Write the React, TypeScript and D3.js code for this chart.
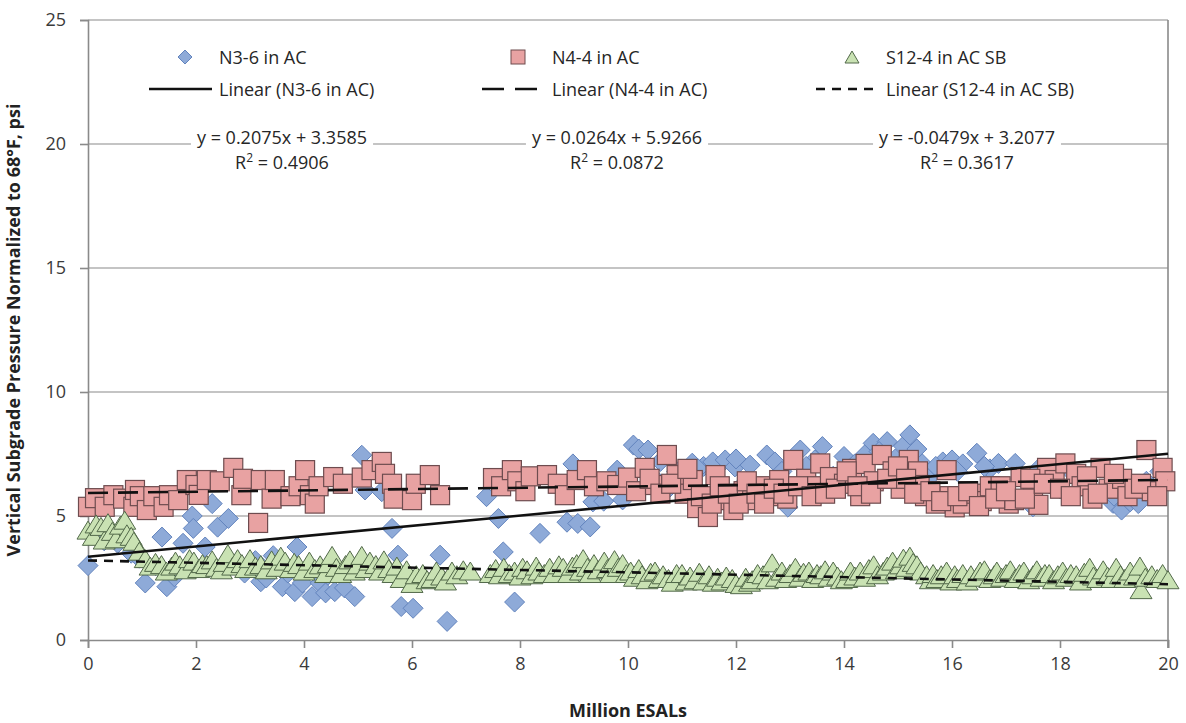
import * as d3 from "d3"
import { useRef, useEffect } from "react"

// N3-6 in AC (blue diamonds)
const n36X = [0.0, 0.3, 0.55, 0.8, 0.95, 1.06, 1.25, 1.37, 1.46, 1.6, 1.76, 1.93, 1.95, 2.17, 2.3, 2.4, 2.6, 2.75, 2.9, 3.1, 3.2, 3.3, 3.43, 3.6, 3.7, 3.83, 3.87, 3.97, 4.15, 4.3, 4.4, 4.57, 4.75, 4.94, 5.07, 5.13, 5.3, 5.44, 5.63, 5.74, 5.8, 6.02, 6.2, 6.52, 6.65, 7.38, 7.6, 7.69, 7.9, 8.37, 8.87, 8.98, 9.07, 9.3, 9.35, 9.55, 9.8, 9.9, 10.1, 10.2, 10.37, 10.5, 10.7, 10.9, 11.19, 11.4, 11.57, 11.66, 11.8, 11.98, 12.1, 12.26, 12.4, 12.57, 12.72, 12.96, 13.19, 13.46, 13.6, 13.8, 14.0, 14.2, 14.4, 14.54, 14.8, 14.95, 15.1, 15.22, 15.35, 15.6, 15.83, 16.0, 16.2, 16.46, 16.7, 16.86, 17.17, 17.5, 17.8, 18.2, 18.5, 18.8, 18.98, 19.14, 19.3, 19.45, 19.6, 19.85,
  10.6, 11.0, 11.3, 12.0, 12.85, 13.3, 14.1, 14.65, 15.45, 15.7, 16.1, 16.6, 17.3, 17.6, 18.0, 18.35, 19.0, 19.7]
const n36Y = [3.0, 4.0, 3.9, 3.5, 3.3, 2.3, 3.0, 4.15, 2.15, 2.55, 3.9, 5.0, 4.5, 3.75, 5.5, 4.55, 4.9, 3.1, 2.7, 3.2, 2.35, 2.5, 3.4, 2.15, 2.7, 1.95, 3.75, 2.3, 1.75, 2.3, 1.9, 1.95, 2.1, 1.75, 7.45, 6.05, 2.9, 5.98, 4.5, 3.42, 1.35, 1.28, 2.5, 3.42, 0.75, 5.78, 4.9, 3.55, 1.53, 4.3, 4.75, 7.1, 4.7, 4.56, 5.57, 5.6, 6.85, 5.65, 7.86, 7.7, 7.66, 6.5, 6.0, 6.8, 7.13, 7.0, 7.18, 5.5, 7.26, 6.98, 6.2, 7.05, 6.0, 7.46, 7.18, 5.36, 7.66, 7.26, 7.8, 6.6, 7.4, 7.1, 7.5, 7.93, 8.0, 7.3, 7.82, 8.27, 7.7, 6.6, 7.18, 7.26, 7.1, 7.53, 6.9, 7.12, 7.12, 5.37, 6.3, 6.8, 6.2, 6.0, 5.51, 5.24, 5.57, 5.5, 6.4, 6.8,
  7.2, 6.4, 6.9, 7.3, 6.8, 7.0, 6.9, 7.6, 7.1, 7.0, 6.8, 7.0, 6.6, 6.9, 6.1, 6.5, 5.8, 5.9]

// N4-4 in AC (pink squares)
const n44X = [0.0, 0.13, 0.31, 0.47, 0.65, 0.84, 0.87, 0.96, 1.09, 1.21, 1.4, 1.5, 1.67, 1.83, 1.99, 2.05, 2.2, 2.44, 2.69, 2.84, 2.87, 3.15, 3.2, 3.4, 3.46, 3.75, 3.9, 4.02, 4.11, 4.2, 4.27, 4.54, 4.72, 5.07, 5.25, 5.44, 5.5, 5.63, 5.66, 6.0, 6.07, 6.33, 6.52, 7.5, 7.65, 7.85, 7.95, 8.1, 8.2, 8.5, 8.7, 8.83, 9.05, 9.24, 9.37, 9.6, 9.8, 10.0, 10.15, 10.31, 10.5, 10.72, 10.9, 11.05, 11.2, 11.28, 11.48, 11.62, 11.77, 11.95, 12.14, 12.3, 12.45, 12.6, 12.8, 12.95, 13.06, 13.3, 13.5, 13.56, 13.74, 14.0, 14.15, 14.3, 14.4, 14.55, 14.7, 14.9, 15.05, 15.2, 15.37, 15.4, 15.5, 15.7, 15.9, 15.95, 16.05, 16.2, 16.4, 16.55, 16.7, 16.9, 17.05, 17.15, 17.27, 17.5, 17.6, 17.76, 17.9, 18.1, 18.3, 18.4, 18.6, 18.75, 18.9, 19.15, 19.25, 19.38, 19.6, 19.7, 19.9, 19.95,
  10.4, 10.6, 10.8, 11.1, 11.35, 11.55, 11.7, 11.85, 12.05, 12.2, 12.38, 12.52, 12.7, 12.88, 13.15, 13.4, 13.65, 13.85, 14.05, 14.25, 14.5, 14.8, 15.0, 15.15, 15.3, 15.6, 15.8, 16.1, 16.3, 16.5, 16.8, 17.0, 17.35, 17.45, 17.7, 18.0, 18.2, 18.5, 18.7, 19.0, 19.5, 19.8]
const n44Y = [5.37, 5.72, 5.37, 5.84, 5.7, 5.37, 6.05, 5.8, 5.24, 5.8, 5.37, 5.84, 5.64, 6.45, 6.25, 5.85, 6.45, 6.4, 6.94, 5.84, 6.5, 4.72, 6.45, 5.7, 6.45, 5.8, 6.2, 6.85, 5.84, 5.5, 6.2, 6.57, 6.3, 6.55, 6.85, 7.18, 6.7, 6.3, 5.7, 5.64, 6.3, 6.65, 5.84, 6.53, 6.2, 6.85, 6.4, 6.0, 6.6, 6.65, 6.3, 5.84, 6.45, 6.85, 6.2, 6.4, 6.25, 6.55, 6.0, 6.94, 6.25, 7.46, 6.65, 5.9, 6.45, 5.32, 4.96, 6.65, 5.64, 5.24, 6.0, 5.64, 6.2, 5.8, 6.45, 5.7, 7.26, 6.5, 6.2, 7.12, 6.57, 6.3, 6.9, 5.8, 7.1, 6.4, 7.46, 6.8, 6.1, 7.26, 6.8, 6.25, 5.8, 5.5, 6.85, 5.8, 5.35, 5.5, 5.9, 5.6, 6.2, 6.2, 5.5, 5.64, 6.57, 5.9, 5.45, 6.94, 6.45, 7.12, 6.7, 6.2, 5.7, 6.94, 6.1, 6.5, 5.8, 6.1, 7.66, 6.0, 6.94, 6.4,
  6.5, 5.9, 6.3, 6.9, 5.8, 5.5, 6.2, 5.9, 5.5, 6.4, 5.9, 5.5, 6.1, 5.9, 6.2, 5.8, 5.9, 6.1, 6.8, 6.2, 5.9, 6.5, 7.0, 6.5, 5.9, 6.0, 5.6, 5.8, 6.0, 5.4, 5.7, 6.0, 5.7, 6.5, 6.3, 6.1, 5.8, 6.6, 5.9, 6.7, 6.3, 5.8]

// S12-4 in AC SB (green triangles)
const s124X = [0.0, 0.1, 0.15, 0.24, 0.3, 0.37, 0.45, 0.52, 0.6, 0.68, 0.72, 0.8, 0.85, 0.95, 1.06, 1.15, 1.25, 1.36, 1.45, 1.55, 1.62, 1.7, 1.8, 1.88, 1.96, 2.05, 2.12, 2.2, 2.3, 2.38, 2.47, 2.52, 2.59, 2.68, 2.77, 2.85, 2.92, 3.0, 3.1, 3.2, 3.3, 3.4, 3.5, 3.57, 3.65, 3.75, 3.82, 3.9, 4.0, 4.1, 4.2, 4.3, 4.4, 4.45, 4.52, 4.6, 4.68, 4.77, 4.85, 4.93, 5.0, 5.07, 5.15, 5.22, 5.33, 5.4, 5.48, 5.57, 5.65, 5.72, 5.8, 5.9, 6.0, 6.08, 6.2, 6.28, 6.37, 6.45, 6.55, 6.62, 6.74, 6.83, 6.95, 7.08, 7.45, 7.55, 7.62, 7.7, 7.8, 7.9, 8.0, 8.05, 8.13, 8.22, 8.3, 8.35, 8.45, 8.55, 8.63, 8.72, 8.8, 8.9, 8.97, 9.05, 9.12, 9.17, 9.25, 9.3, 9.37, 9.45, 9.56, 9.62, 9.68, 9.75, 9.82, 9.9, 9.97, 10.05, 10.12, 10.2, 10.26, 10.35, 10.42, 10.5, 10.58, 10.65, 10.75, 10.82, 10.9, 11.0, 11.08, 11.15, 11.24, 11.32, 11.4, 11.5, 11.58, 11.66, 11.74, 11.82, 11.93, 12.0, 12.1, 12.18, 12.25, 12.3, 12.4, 12.5, 12.58, 12.67, 12.75, 12.85, 12.92, 13.0, 13.1, 13.18, 13.25, 13.35, 13.42, 13.5, 13.57, 13.65, 13.72, 13.8, 13.88, 13.95, 14.05, 14.12, 14.2, 14.3, 14.38, 14.46, 14.55, 14.62, 14.73, 14.8, 14.9, 14.97, 15.05, 15.1, 15.16, 15.22, 15.28, 15.35, 15.42, 15.53, 15.6, 15.65, 15.72, 15.8, 15.9, 15.98, 16.05, 16.1, 16.2, 16.28, 16.35, 16.45, 16.52, 16.6, 16.7, 16.78, 16.83, 16.92, 17.0, 17.08, 17.17, 17.25, 17.33, 17.42, 17.5, 17.57, 17.65, 17.72, 17.8, 17.88, 17.96, 18.05, 18.12, 18.2, 18.3, 18.38, 18.45, 18.55, 18.62, 18.7, 18.8, 18.88, 18.96, 19.04, 19.12, 19.2, 19.3, 19.38, 19.48, 19.5, 19.58, 19.7, 19.8, 19.9, 20.0]
const s124Y = [4.35, 4.1, 4.6, 4.5, 3.95, 4.65, 4.3, 4.0, 4.55, 4.75, 4.2, 4.1, 3.9, 3.5, 3.2, 2.9, 3.05, 2.96, 2.7, 2.9, 3.1, 2.95, 2.75, 3.2, 3.1, 2.8, 3.0, 2.96, 3.15, 2.85, 2.75, 3.05, 3.4, 2.9, 3.2, 3.0, 2.8, 3.2, 2.9, 2.96, 2.75, 3.15, 2.85, 3.3, 3.1, 2.8, 3.05, 2.96, 2.7, 3.1, 2.8, 2.95, 2.6, 3.0, 3.33, 2.85, 2.6, 2.96, 3.15, 2.7, 2.95, 3.33, 2.8, 3.1, 2.96, 2.7, 3.15, 2.8, 2.6, 2.9, 2.4, 2.75, 2.2, 2.55, 2.6, 2.35, 2.4, 2.7, 2.5, 2.3, 2.7, 2.55, 2.75, 2.7, 2.6, 2.8, 2.55, 2.85, 2.6, 2.7, 2.5, 2.85, 2.75, 2.55, 2.9, 2.7, 2.6, 2.85, 2.6, 2.95, 2.85, 2.6, 2.9, 3.0, 2.7, 3.2, 2.85, 2.6, 3.0, 2.75, 3.1, 2.8, 2.6, 3.16, 2.85, 3.0, 2.6, 2.7, 2.45, 2.8, 2.55, 2.35, 2.65, 2.7, 2.4, 2.55, 2.4, 2.25, 2.6, 2.6, 2.3, 2.5, 2.35, 2.65, 2.3, 2.55, 2.25, 2.45, 2.3, 2.5, 2.4, 2.2, 2.15, 2.45, 2.25, 2.35, 2.6, 2.55, 2.35, 3.03, 2.45, 2.7, 2.4, 2.6, 2.85, 2.45, 2.65, 2.7, 2.4, 2.6, 2.55, 2.75, 2.45, 2.7, 2.5, 2.35, 2.4, 2.7, 2.5, 2.7, 2.45, 2.8, 2.95, 2.55, 2.7, 2.9, 3.1, 2.75, 2.95, 3.22, 2.85, 3.3, 3.05, 2.95, 2.7, 2.55, 2.35, 2.6, 2.4, 2.55, 2.7, 2.3, 2.55, 2.4, 2.6, 2.3, 2.55, 2.45, 2.7, 2.75, 2.4, 2.55, 2.7, 2.45, 2.6, 2.75, 2.4, 2.6, 2.7, 2.35, 2.55, 2.75, 2.45, 2.6, 2.6, 2.35, 2.55, 2.7, 2.45, 2.6, 2.55, 2.3, 2.65, 2.85, 2.5, 2.4, 2.75, 2.5, 2.4, 2.85, 2.55, 2.4, 2.7, 2.5, 2.9, 1.95, 2.45, 2.55, 2.4, 2.6, 2.35]

// trendlines (from the equations shown)
const seriesNames = ["N3-6 in AC", "N4-4 in AC", "S12-4 in AC SB"]
const trendSlope = [0.2075, 0.0264, -0.0479]
const trendIntercept = [3.3585, 5.9266, 3.2077]
const trendEq = ["y = 0.2075x + 3.3585", "y = 0.0264x + 5.9266", "y = -0.0479x + 3.2077"]
const trendR2 = ["0.4906", "0.0872", "0.3617"]

const xTicks = [0, 2, 4, 6, 8, 10, 12, 14, 16, 18, 20]
const yTicks = [0, 5, 10, 15, 20, 25]

const App = () => {
  const svgRef = useRef<SVGSVGElement>(null)
  const width = 1186
  const height = 723
  const left = 88
  const right = 1168
  const top = 20
  const bottom = 640
  const font = "'Open Sans', 'Noto Sans', sans-serif"

  useEffect(() => {
    const svg = d3.select(svgRef.current)
    svg.selectAll("*").remove()

    const x = d3.scaleLinear().domain([0, 20]).range([left, right])
    const y = d3.scaleLinear().domain([0, 25]).range([bottom, top])

    // gridlines
    svg
      .append("g")
      .selectAll("line")
      .data(yTicks.slice(1))
      .join("line")
      .attr("x1", left)
      .attr("x2", right)
      .attr("y1", (d) => y(d))
      .attr("y2", (d) => y(d))
      .attr("stroke", "#b0b0b0")
      .attr("stroke-width", 1.4)

    // axes
    const yAxis = svg
      .append("g")
      .attr("transform", `translate(${left},0)`)
      .call(d3.axisLeft(y).tickValues(yTicks).tickSize(8).tickPadding(14))
    const xAxis = svg
      .append("g")
      .attr("transform", `translate(0,${bottom})`)
      .call(d3.axisBottom(x).tickValues(xTicks).tickSize(8).tickPadding(9))
    ;[xAxis, yAxis].forEach((g) => {
      g.select(".domain").attr("stroke", "#8a8a8a").attr("stroke-width", 1.6)
      g.selectAll(".tick line").attr("stroke", "#8a8a8a").attr("stroke-width", 1.6)
      g.selectAll(".tick text")
        .attr("fill", "#3a3a3a")
        .attr("font-size", 18)
        .attr("font-family", font)
    })
    // right border
    svg
      .append("line")
      .attr("x1", right)
      .attr("x2", right)
      .attr("y1", top)
      .attr("y2", bottom + 8)
      .attr("stroke", "#8a8a8a")
      .attr("stroke-width", 1.6)

    const plot = svg.append("g")

    // N3-6 diamonds
    plot
      .selectAll(".dia")
      .data(n36X.map((v, i) => [v, n36Y[i]]))
      .join("path")
      .attr("d", "M0,-10L10,0L0,10L-10,0Z")
      .attr("transform", (d) => `translate(${x(d[0])},${y(d[1])})`)
      .attr("fill", "#8eaad8")
      .attr("stroke", "#6283bd")
      .attr("stroke-width", 1)

    // N4-4 squares
    plot
      .selectAll(".sq")
      .data(n44X.map((v, i) => [v, n44Y[i]]))
      .join("rect")
      .attr("x", (d) => x(d[0]) - 9.5)
      .attr("y", (d) => y(d[1]) - 9.5)
      .attr("width", 19)
      .attr("height", 19)
      .attr("fill", "#e8a2a2")
      .attr("stroke", "#6e4c4f")
      .attr("stroke-width", 1.2)

    // S12-4 triangles
    plot
      .selectAll(".tri")
      .data(s124X.map((v, i) => [v, s124Y[i]]))
      .join("path")
      .attr("d", "M0,-11L11,7L-11,7Z")
      .attr("transform", (d) => `translate(${x(d[0])},${y(d[1])})`)
      .attr("fill", "#c9e2b3")
      .attr("stroke", "#52694a")
      .attr("stroke-width", 1)

    // trendlines
    const dashes = [null, "20,10", "9,7"]
    const line = d3
      .line<number>()
      .x((d) => x(d))
    trendSlope.forEach((m, i) => {
      svg
        .append("path")
        .datum([0, 20])
        .attr("d", line.y((d) => y(m * d + trendIntercept[i])))
        .attr("fill", "none")
        .attr("stroke", "#111")
        .attr("stroke-width", 2.6)
        .attr("stroke-dasharray", dashes[i])
    })

    // legend
    const legendX = [185, 518, 852]
    const legend = svg.append("g").attr("font-family", font).attr("font-size", 18).attr("fill", "#262626")
    legendX.forEach((lx, i) => {
      const g = legend.append("g")
      if (i === 0)
        g.append("path").attr("d", "M0,-7L7,0L0,7L-7,0Z").attr("transform", `translate(${lx},57)`)
          .attr("fill", "#8eaad8").attr("stroke", "#6283bd")
      if (i === 1)
        g.append("rect").attr("x", lx - 7).attr("y", 50).attr("width", 14).attr("height", 14)
          .attr("fill", "#e8a2a2").attr("stroke", "#6e4c4f")
      if (i === 2)
        g.append("path").attr("d", "M0,-7L7,5L-7,5Z").attr("transform", `translate(${lx},58)`)
          .attr("fill", "#c9e2b3").attr("stroke", "#52694a")
      g.append("text").attr("x", lx + 34).attr("y", 64).text(seriesNames[i])
      g.append("line")
        .attr("x1", lx - 36)
        .attr("x2", lx + 27)
        .attr("y1", 89)
        .attr("y2", 89)
        .attr("stroke", "#111")
        .attr("stroke-width", 2.6)
        .attr("stroke-dasharray", i === 1 ? "22,11" : i === 2 ? "9,7" : null)
      g.append("text").attr("x", lx + 34).attr("y", 96).text(`Linear (${seriesNames[i]})`)
    })

    // trendline equations
    const eqX = [282, 617, 967]
    eqX.forEach((cx, i) => {
      const g = svg.append("g").attr("font-family", font).attr("font-size", 18).attr("fill", "#262626")
      const t = g.append("text").attr("x", cx).attr("y", 144).attr("text-anchor", "middle").text(trendEq[i])
      const bb = (t.node() as SVGTextElement).getBBox()
      g.insert("rect", "text")
        .attr("x", bb.x - 6)
        .attr("y", bb.y)
        .attr("width", bb.width + 12)
        .attr("height", bb.height + 22)
        .attr("fill", "#fff")
      const r = g.append("text").attr("x", cx).attr("y", 169).attr("text-anchor", "middle")
      r.append("tspan").text("R")
      r.append("tspan").attr("font-size", 12).attr("dy", -7).text("2")
      r.append("tspan").attr("dy", 7).text(` = ${trendR2[i]}`)
    })

    // axis titles
    svg
      .append("text")
      .attr("transform", `translate(20,${(top + bottom) / 2}) rotate(-90)`)
      .attr("text-anchor", "middle")
      .attr("font-family", font)
      .attr("font-weight", "bold")
      .attr("font-size", 18)
      .attr("fill", "#222")
      .text("Vertical Subgrade Pressure Normalized to 68°F, psi")
    svg
      .append("text")
      .attr("x", 628)
      .attr("y", 717)
      .attr("text-anchor", "middle")
      .attr("font-family", font)
      .attr("font-weight", "bold")
      .attr("font-size", 18)
      .attr("fill", "#222")
      .text("Million ESALs")
  }, [])

  return (
    <svg
      ref={svgRef}
      width={width}
      height={height}
      style={{ position: "absolute", left: 0, top: 0, background: "#fff" }}
    ></svg>
  )
}

export default App
